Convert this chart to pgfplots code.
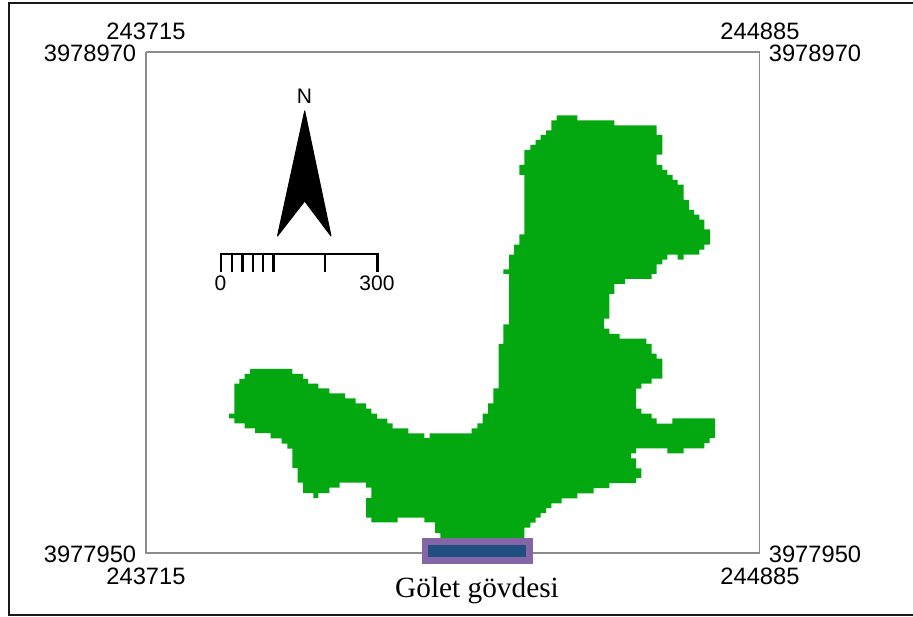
\documentclass[border=0pt]{standalone}
\usepackage{pgfplots}
\pgfplotsset{compat=1.18}
\usepackage{fontspec}
\setmainfont{Liberation Sans}
\newfontfamily\serifface{Liberation Serif}
\definecolor{basin}{HTML}{03A70F}
\definecolor{damfill}{HTML}{1F4E80}
\definecolor{damedge}{HTML}{8466A6}
\definecolor{framegray}{HTML}{8C8C8C}
\newcommand{\lab}{\fontsize{23.7}{24}\selectfont}
\newcommand{\slab}{\fontsize{21}{21}\selectfont}
\begin{document}
\begin{tikzpicture}
\begin{axis}[
  scale only axis, width=913pt, height=617pt,
  xmin=0, xmax=913, ymin=0, ymax=617, y dir=reverse,
  hide axis, clip=true,
]
\path (axis cs:0,0) rectangle (axis cs:913,617);
% map frame and outer frame
\addplot[draw=black!90, line width=2pt] coordinates {(913,3) (8.5,3) (8.5,614.5) (913,614.5)};
\addplot[draw=framegray, line width=1.4pt] coordinates {(146,52) (759.5,52) (759.5,553) (146,553) (146,52)};
% basin
\addplot[fill=basin, draw=none] coordinates {
(556.7,115.3)(577.3,115.3)(577.3,120.3)(614.3,120.3)(614.3,125.3)(656.7,125.3)(656.7,135)(662.3,135)
(662.3,154.7)(656.7,154.7)(656.7,165)(662.3,165)(662.3,170)(667.3,170)(667.3,175)(672.7,175)(672.7,180)
(677.7,180)(677.7,184.7)(683.7,184.7)(683.7,200)(689,200)(689,210)(694,210)(694,214.7)(699.3,214.7)
(699.3,219.7)(704.3,219.7)(704.3,229.3)(710,229.3)(710,244.7)(704.3,244.7)(704.3,249.7)(699.3,249.7)
(699.3,254.7)(683.7,254.7)(683.7,259.7)(677.7,259.7)(677.7,254.7)(667.3,254.7)(667.3,259.7)(662.3,259.7)
(662.3,264.3)(656.7,264.3)(656.7,274)(651.7,274)(651.7,279)(625,279)(625,284)(614.3,284)(614.3,294)
(609.3,294)(609.3,318.7)(604,318.7)(604,328.7)(609.3,328.7)(609.3,334)(619.7,334)(619.7,338.7)(646.3,338.7)
(646.3,344)(651.7,344)(651.7,353.7)(656.7,353.7)(656.7,358.7)(662.3,358.7)(662.3,378.7)(651.7,378.7)
(651.7,383.7)(641.3,383.7)(641.3,388.7)(636,388.7)(636,408.7)(641.3,408.7)(641.3,413.7)(651.7,413.7)
(651.7,418.3)(656.7,418.3)(656.7,423.7)(672.3,423.7)(672.3,418.3)(715,418.3)(715,438)(709.7,438)(709.7,443)
(704.3,443)(704.3,448.3)(683.7,448.3)(683.7,453.3)(667.3,453.3)(667.3,448.3)(636,448.3)(636,453.3)(631,453.3)
(631,458.3)(636,458.3)(636,468.3)(641.3,468.3)(641.3,478)(636,478)(636,483)(609.3,483)(609.3,488)(593.7,488)
(593.7,493.3)(577.3,493.3)(577.3,498.3)(561.7,498.3)(561.7,503.3)(551.3,503.3)(551.3,508)(546,508)(546,513)
(540.7,513)(540.7,517.7)(535.7,517.7)(535.7,522.7)(530.3,522.7)(530.3,527.7)(524.3,527.7)(524.3,545)
(440.3,545)(440.3,533)(435,533)(435,522.3)(424.3,522.3)(424.3,517.7)(397.7,517.7)(397.7,522.3)(371.3,522.3)
(371.3,517.7)(366,517.7)(366,498)(371.3,498)(371.3,487.7)(366,487.7)(366,482.7)(339.7,482.7)(339.7,487.7)
(329.3,487.7)(329.3,493)(318.3,493)(318.3,498)(313.3,498)(313.3,493)(303,493)(303,482.7)(297.7,482.7)
(297.7,468)(292.3,468)(292.3,448.7)(287.3,448.7)(287.3,443.7)(281.7,443.7)(281.7,438.3)(270.7,438.3)
(270.7,433)(255,433)(255,428.3)(244.7,428.3)(244.7,423.3)(234.3,423.3)(234.3,418.3)(229,418.3)(229,413.7)
(234.3,413.7)(234.3,383.7)(239.3,383.7)(239.3,379)(244.7,379)(244.7,374)(250,374)(250,369)(292.3,369)
(292.3,374)(303,374)(303,379)(308,379)(308,383.7)(318.3,383.7)(318.3,388.3)(329.3,388.3)(329.3,393.3)
(345,393.3)(345,398.3)(355.7,398.3)(355.7,403.3)(366,403.3)(366,408.7)(371.3,408.7)(371.3,413.7)(377,413.7)
(377,418.7)(387.3,418.7)(387.3,423.3)(392.7,423.3)(392.7,428.3)(408.3,428.3)(408.3,433.3)(424.3,433.3)
(424.3,438)(429.7,438)(429.7,433.3)(471.7,433.3)(471.7,428.3)(477.3,428.3)(477.3,423.3)(482.7,423.3)
(482.7,413.7)(488,413.7)(488,403.3)(493.3,403.3)(493.3,388.3)(498.7,388.3)(498.7,344)(503.3,344)(503.3,324.3)
(509,324.3)(509,274)(503.3,274)(503.3,269.3)(509,269.3)(509,254.7)(514,254.7)(514,244.7)(519.3,244.7)
(519.3,234.3)(524.3,234.3)(524.3,175)(519.3,175)(519.3,165)(524.3,165)(524.3,150)(530.3,150)(530.3,145)
(535.7,145)(535.7,140)(540.7,140)(540.7,135)(546,135)(546,130.3)(551.3,130.3)(551.3,120.3)(556.7,120.3)
} --cycle;
% dam body
\addplot[fill=damedge, draw=none] coordinates {(421.7,537.7)(532.7,537.7)(532.7,563.7)(421.7,563.7)} --cycle;
\addplot[fill=damfill, draw=none] coordinates {(428,545)(526,545)(526,557)(428,557)} --cycle;
% north arrow
\addplot[fill=black, draw=black, line width=1pt, line join=round] coordinates {(304.7,111)(331,236)(304.7,201)(277.5,236)} --cycle;
% scale bar
\addplot[draw=black, line width=2.4pt] coordinates {(220.7,272.3)(220.7,254.3)(377.3,254.3)(377.3,272.3)};
\addplot[draw=black, line width=2.4pt] coordinates {(231.7,254.3)(231.7,272.3)};
\addplot[draw=black, line width=2.4pt] coordinates {(242.3,254.3)(242.3,272.3)};
\addplot[draw=black, line width=2.4pt] coordinates {(252.7,254.3)(252.7,272.3)};
\addplot[draw=black, line width=2.4pt] coordinates {(263,254.3)(263,272.3)};
\addplot[draw=black, line width=2.4pt] coordinates {(273.3,254.3)(273.3,272.3)};
\addplot[draw=black, line width=2.4pt] coordinates {(324.7,254.3)(324.7,272.3)};
% texts
\node[font=\slab, anchor=center] at (axis cs:304.5,96) {N};
\node[font=\slab, anchor=center] at (axis cs:220.5,283) {0};
\node[font=\slab, anchor=center] at (axis cs:377,283) {300};
\node[font=\lab, anchor=center] at (axis cs:146,31) {243715};
\node[font=\lab, anchor=center] at (axis cs:90,53) {3978970};
\node[font=\lab, anchor=center] at (axis cs:760,31) {244885};
\node[font=\lab, anchor=center] at (axis cs:815,53) {3978970};
\node[font=\lab, anchor=center] at (axis cs:90,554) {3977950};
\node[font=\lab, anchor=center] at (axis cs:146,576) {243715};
\node[font=\lab, anchor=center] at (axis cs:815,554) {3977950};
\node[font=\lab, anchor=center] at (axis cs:760,576) {244885};
\node[font=\fontsize{29.3}{30}\selectfont\serifface, anchor=center] at (axis cs:477,590) {Gölet gövdesi};
\end{axis}
\end{tikzpicture}
\end{document}
